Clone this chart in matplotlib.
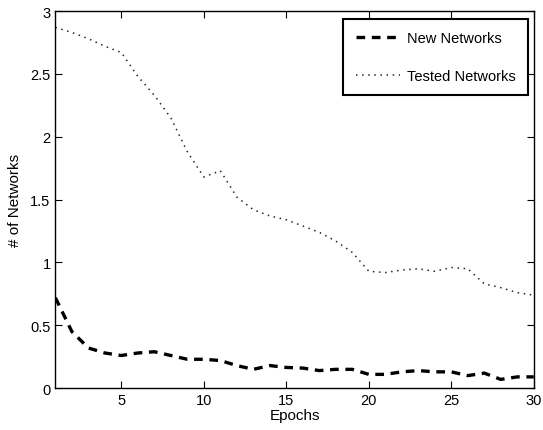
import matplotlib
matplotlib.use('Agg')
import matplotlib.pyplot as plt

plt.rcParams['font.family'] = ['Liberation Sans', 'DejaVu Sans']

# dados
epochs = list(range(1, 31))
new_networks = [0.72, 0.45, 0.32, 0.28, 0.26, 0.28, 0.29, 0.26, 0.23, 0.23,
                0.22, 0.18, 0.15, 0.18, 0.165, 0.16, 0.14, 0.15, 0.15, 0.11,
                0.11, 0.13, 0.14, 0.13, 0.13, 0.10, 0.12, 0.07, 0.09, 0.09]
tested_networks = [2.87, 2.83, 2.78, 2.72, 2.67, 2.48, 2.33, 2.15, 1.88, 1.68,
                   1.73, 1.52, 1.42, 1.37, 1.34, 1.29, 1.24, 1.17, 1.08, 0.93,
                   0.92, 0.94, 0.95, 0.93, 0.96, 0.95, 0.83, 0.80, 0.76, 0.74]

fig = plt.figure(figsize=(5.43, 4.31), dpi=100)
ax = fig.add_axes([0.102, 0.097, 0.881, 0.875])

ax.plot(epochs, new_networks, color='k', linestyle=(0, (2.6, 2.0)), linewidth=2.4,
        label='New Networks')
ax.plot(epochs, tested_networks, color='0.15', linestyle=(0, (1, 3)), linewidth=1.1,
        label='Tested Networks')

ax.set_xlim(1, 30)
ax.set_ylim(0, 3)
ax.set_xticks([5, 10, 15, 20, 25, 30])
ax.set_yticks([0, 0.5, 1, 1.5, 2, 2.5, 3])
ax.set_yticklabels(['0', '0.5', '1', '1.5', '2', '2.5', '3'])
ax.tick_params(direction='in', top=True, right=True, labelsize=10.5, length=5, width=0.8)
for s in ax.spines.values():
    s.set_linewidth(1.0)
ax.set_xlabel('Epochs', fontsize=11, labelpad=1)
ax.set_ylabel('# of Networks', fontsize=11, labelpad=6)

leg = ax.legend(loc='upper right', fontsize=10.5, fancybox=False, framealpha=1,
                borderpad=0.85, labelspacing=1.6, handlelength=3.0, handletextpad=0.5,
                borderaxespad=0, bbox_to_anchor=(0.988, 0.979))
leg.get_frame().set_edgecolor('k')
leg.get_frame().set_linewidth(1.5)

plt.savefig('out.png', dpi=100)
